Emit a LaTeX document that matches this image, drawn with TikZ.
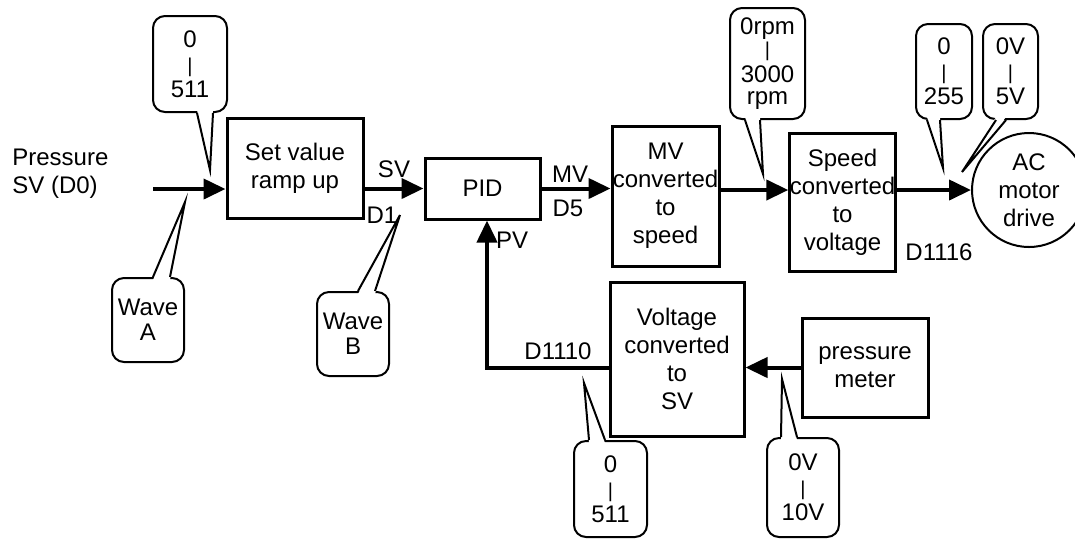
\documentclass[tikz,border=0pt]{standalone}
\usepackage{fontspec}
\setmainfont{Liberation Sans}
\usetikzlibrary{arrows.meta,calc}

\newcommand{\rng}{\strut{\fontsize{10}{10}\selectfont |}}
% tail of a speech bubble: anchor, two base offsets, tip, inward shift
\newcommand{\calltail}[5]{%
  \fill[white] ($(#1)+(#2,#5)$) -- (#4) -- ($(#1)+(#3,#5)$) -- cycle;
  \draw[line width=1pt] ($(#1)+(#2,0)$) -- (#4) -- ($(#1)+(#3,0)$);}

\tikzset{
  blk/.style={draw, line width=1.5pt, inner sep=0pt, align=center},
  bubble/.style={draw, line width=1pt, rounded corners=6pt, inner sep=0pt, align=center,
    font=\fontsize{12}{12.6}\selectfont},
  flow/.style={line width=2pt, -{Triangle[length=11pt,width=10pt]}},
  lbl/.style={inner sep=0pt},
}

\begin{document}
\begin{tikzpicture}[x=0.5pt, y=-0.5pt, font=\fontsize{12}{14}\selectfont]
\useasboundingbox (0,0) rectangle (1075,538);

% Blocks
\node[blk, minimum width=68pt, minimum height=50pt] (ramp) at (295,168) {Set value\\ramp up};
\node[blk, minimum width=57.5pt, minimum height=30.5pt] (pid) at (482.5,188.5) {PID};
\node[blk, minimum width=53.5pt, minimum height=70pt] (mvconv) at (665.5,196) {MV\\converted\\to\\speed};
\node[blk, minimum width=51.5pt, minimum height=69pt] (spdconv) at (842.5,202) {Speed\\converted\\to\\voltage};
\node[draw, circle, line width=1pt, minimum size=57pt, inner sep=0pt, align=center] (motor) at (1029,190) {AC\\motor\\drive};
\node[blk, minimum width=67pt, minimum height=77pt] (voltconv) at (677,359) {Voltage\\converted\\to\\SV};
\node[blk, minimum width=63pt, minimum height=49.5pt] (meter) at (865,367.5) {pressure\\meter};

% Signal labels
\node[lbl, align=left, anchor=west] (src) at (12,174) {Pressure\\SV (D0)};
\node[lbl] (sv) at (394,169) {SV};
\node[lbl] (d1) at (382,215) {D1};
\node[lbl] (mv) at (570,174) {MV};
\node[lbl] (d5) at (568,208) {D5};
\node[lbl] (pv) at (512,240) {PV};
\node[lbl] (d1110) at (558,351) {D1110};
\node[lbl] (d1116) at (939,252) {D1116};

% Signal flow
\coordinate (in) at (153,189);
\coordinate (fb) at (487,368);
\draw[flow] (in) -- (ramp.west |- in);
\draw[flow] (ramp.east |- pid.west) -- (pid.west);
\draw[flow] (pid.east) -- (pid.east -| mvconv.west);
\draw[flow] (mvconv.east |- motor.west) -- (spdconv.west |- motor.west);
\draw[flow] (spdconv.east |- motor.west) -- (motor.west);
\draw[flow] (meter.west) -- (meter.west -| voltconv.east);
\draw[flow] (voltconv.west |- fb) -- (fb) -- (fb |- pid.south);

% Range bubbles
\node[bubble, minimum width=37pt, minimum height=48pt] (cA) at (190,64) {0\\\rng\\511};
\node[bubble, minimum width=37.5pt, minimum height=55.5pt, font=\fontsize{12}{11.2}\selectfont] (cB) at (767.5,63.5) {0rpm\\\rng\\3000\\rpm};
\node[bubble, minimum width=28pt, minimum height=47.5pt] (cC) at (944,71.5) {0\\\rng\\255};
\node[bubble, minimum width=27.5pt, minimum height=47.5pt] (cD) at (1010.5,71.5) {0V\\\rng\\5V};
\node[bubble, minimum width=36pt, minimum height=42pt] (cE) at (148,320) {Wave\\A};
\node[bubble, minimum width=36pt, minimum height=42pt] (cF) at (353,334) {Wave\\B};
\node[bubble, minimum width=36.5pt, minimum height=48pt] (cG) at (610.5,489) {0\\\rng\\511};
\node[bubble, minimum width=36pt, minimum height=49.5pt] (cH) at (803,487.5) {0V\\\rng\\10V};

% Bubble tails
\coordinate (tA) at (210,170);
\coordinate (tB) at (763,174);
\coordinate (tC) at (943,168);
\coordinate (tD) at (962,172);
\coordinate (tE) at (185,202);
\coordinate (tF) at (400,215);
\coordinate (tG) at (584,383);
\coordinate (tH) at (782,379);
\calltail{cA.south}{7}{23}{tA}{-3}
\calltail{cB.south}{-22.5}{-7.5}{tB}{-3}
\calltail{cC.south}{-17}{-4}{tC}{-3}
\calltail{cD.south}{-14.5}{-4.5}{tD}{-3}
\calltail{cE.north}{5}{22}{tE}{3}
\calltail{cF.north}{5}{22}{tF}{3}
\calltail{cG.north}{-21.5}{-5.5}{tG}{3}
\calltail{cH.north}{-22}{-6}{tH}{3}
\end{tikzpicture}
\end{document}
